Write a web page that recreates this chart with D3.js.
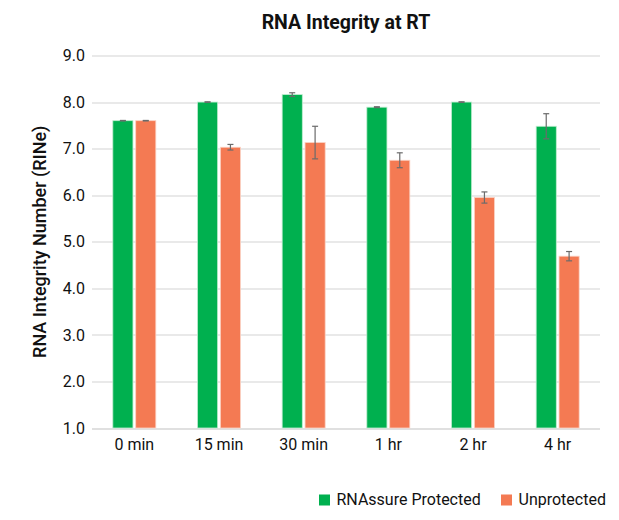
<!DOCTYPE html>
<html>
<head>
<meta charset="utf-8">
<script src="https://cdn.jsdelivr.net/npm/d3@7"></script>
<style>
  body { margin: 0; background: #fff; }
  svg text { font-family: Roboto, "Open Sans", sans-serif; fill: #111; }
</style>
</head>
<body>
<div id="chart"></div>
<script>
const categories = ['0 min', '15 min', '30 min', '1 hr', '2 hr', '4 hr'];
const seriesNames = ['RNAssure Protected', 'Unprotected'];
const protectedValues = [7.6, 8.0, 8.16, 7.89, 8.0, 7.48];
const protectedErrors = [0.005, 0.005, 0.04, 0.01, 0.005, 0.27];
const unprotectedValues = [7.6, 7.03, 7.13, 6.75, 5.95, 4.69];
const unprotectedErrors = [0.005, 0.06, 0.35, 0.16, 0.12, 0.1];
const yTicks = [1, 2, 3, 4, 5, 6, 7, 8, 9];
const colors = ['#00B04F', '#F47A53'];

const width = 619, height = 520;
const margin = { top: 55.5, right: 19, bottom: 92, left: 92 };
const chartWidth = width - margin.left - margin.right;
const chartHeight = height - margin.top - margin.bottom;

const svg = d3.select('#chart').append('svg')
    .attr('width', width)
    .attr('height', height);

const x = d3.scaleBand().domain(categories).range([0, chartWidth]);
const x1 = d3.scaleBand().domain(seriesNames).range([0, 43]).paddingInner(0.12);
const y = d3.scaleLinear().domain([1, 9]).range([chartHeight, 0]);

const g = svg.append('g').attr('transform', `translate(${margin.left},${margin.top})`);

// Grid
g.append('g')
    .selectAll('line')
    .data(yTicks)
    .enter()
    .append('line')
    .attr('x1', 0)
    .attr('x2', chartWidth)
    .attr('y1', d => Math.round(y(d)) + 0.5)
    .attr('y2', d => Math.round(y(d)) + 0.5)
    .style('stroke', d => d === 1 ? '#d6d6d6' : '#e2e2e2')
    .style('stroke-width', 1.3);

// Y axis labels
const yAxis = d3.axisLeft(y).tickValues(yTicks).tickFormat(d3.format('.1f')).tickSize(0).tickPadding(7);
g.append('g')
    .call(yAxis)
    .call(a => a.select('.domain').remove())
    .selectAll('text')
    .style('font-size', '16px')
    .style('fill', '#111');

// X axis labels
const xAxis = d3.axisBottom(x).tickSize(0).tickPadding(11);
g.append('g')
    .attr('transform', `translate(0,${chartHeight})`)
    .call(xAxis)
    .call(a => a.select('.domain').remove())
    .selectAll('text')
    .style('font-size', '16px')
    .style('fill', '#111');

// Bars
const rows = categories.map((c, i) => ({
    cat: c,
    items: [
        { name: seriesNames[0], value: protectedValues[i], err: protectedErrors[i], color: colors[0] },
        { name: seriesNames[1], value: unprotectedValues[i], err: unprotectedErrors[i], color: colors[1] }
    ]
}));

const groups = g.selectAll('.grp')
    .data(rows)
    .enter()
    .append('g')
    .attr('class', 'grp')
    .attr('transform', d => `translate(${x(d.cat) + (x.bandwidth() - 43) / 2},0)`);

groups.selectAll('rect')
    .data(d => d.items)
    .enter()
    .append('rect')
    .attr('x', d => x1(d.name))
    .attr('y', d => y(d.value))
    .attr('width', x1.bandwidth())
    .attr('height', d => y(1) - y(d.value))
    .attr('fill', d => d.color)
    .attr('stroke', d => d.name === seriesNames[0] ? '#bfeccf' : '#fbd3c5')
    .attr('stroke-width', 0.8);

// Error bars
const errs = groups.selectAll('.err')
    .data(d => d.items)
    .enter()
    .append('g')
    .attr('class', 'err')
    .style('stroke', '#6b6b6b')
    .style('stroke-width', 1.2);

errs.append('line')
    .attr('x1', d => x1(d.name) + x1.bandwidth() / 2)
    .attr('x2', d => x1(d.name) + x1.bandwidth() / 2)
    .attr('y1', d => y(d.value + d.err))
    .attr('y2', d => y(d.value - d.err));
errs.append('line')
    .attr('x1', d => x1(d.name) + x1.bandwidth() / 2 - 3)
    .attr('x2', d => x1(d.name) + x1.bandwidth() / 2 + 3)
    .attr('y1', d => y(d.value + d.err))
    .attr('y2', d => y(d.value + d.err));
errs.append('line')
    .attr('x1', d => x1(d.name) + x1.bandwidth() / 2 - 3)
    .attr('x2', d => x1(d.name) + x1.bandwidth() / 2 + 3)
    .attr('y1', d => y(d.value - d.err))
    .attr('y2', d => y(d.value - d.err));

// Title
svg.append('text')
    .attr('x', margin.left + chartWidth / 2)
    .attr('y', 29)
    .attr('text-anchor', 'middle')
    .style('font-size', '19.5px')
    .style('font-weight', 'bold')
    .text('RNA Integrity at RT');

// Y axis title
svg.append('text')
    .attr('transform', `translate(46,${margin.top + chartHeight / 2}) rotate(-90)`)
    .attr('text-anchor', 'middle')
    .style('font-size', '18px')
    .style('font-weight', 500)
    .text('RNA Integrity Number (RINe)');

// Legend
const legend = svg.append('g').attr('transform', 'translate(319,494.5)');
const legendX = [0, 182];
seriesNames.forEach((name, i) => {
    const lg = legend.append('g').attr('transform', `translate(${legendX[i]},0)`);
    lg.append('rect').attr('width', 11).attr('height', 11).attr('fill', colors[i]);
    lg.append('text')
        .attr('x', 17.5)
        .attr('y', 6)
        .attr('dominant-baseline', 'middle')
        .style('font-size', '16px')
        .text(name);
});
</script>
</body>
</html>
